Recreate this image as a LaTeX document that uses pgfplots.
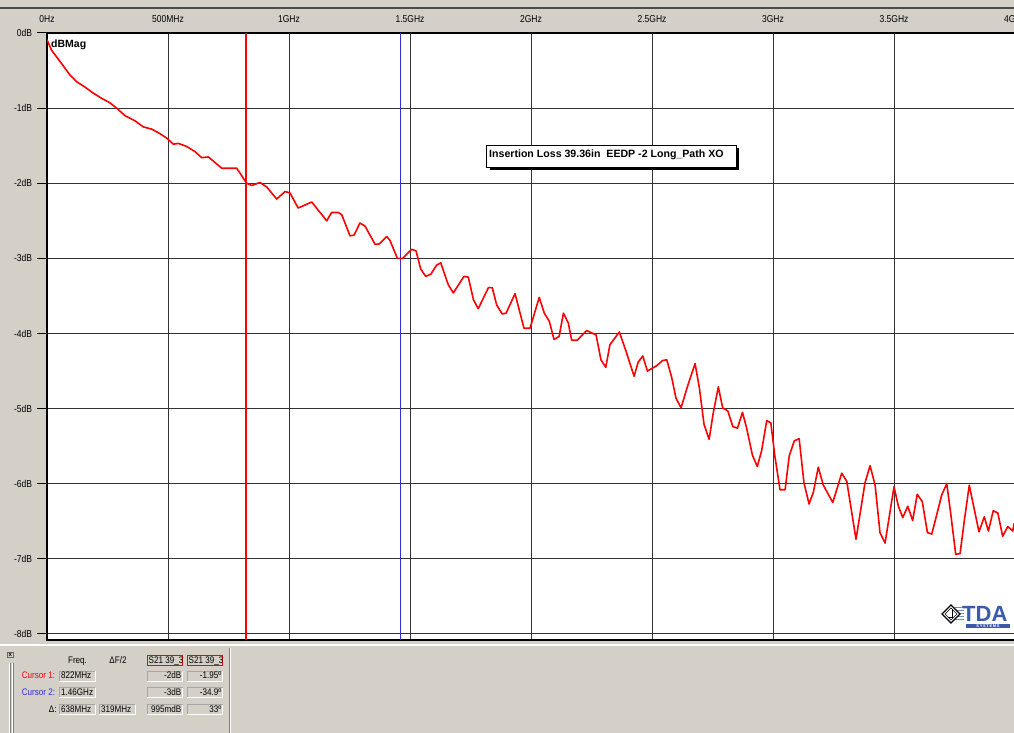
\documentclass[border=0pt]{standalone}
\usepackage{pgfplots}
\pgfplotsset{compat=1.18}
\usepackage{fontspec}
\setmainfont{Liberation Sans}
\newfontfamily\ui[FakeStretch=0.85]{Liberation Sans}
\definecolor{wingray}{HTML}{D4D0C8}
\definecolor{curblue}{HTML}{3030D0}
\definecolor{curred}{HTML}{FF0000}
\definecolor{tdablue}{HTML}{3A5AAA}
\newcommand\fieldbox[4]{%
  \fill[wingray] (#1,733-#3) rectangle (#2,733-#4);
  \draw[gray!70, line width=0.8pt] (#1,733-#4) -- (#1,733-#3) -- (#2,733-#3);
  \draw[white, line width=0.8pt] (#2,733-#3) -- (#2,733-#4) -- (#1,733-#4);
}
\newcommand\pf{\ui\fontsize{9.5}{11}\selectfont}
\begin{document}
\begin{tikzpicture}[x=1pt,y=1pt]
\useasboundingbox (0,0) rectangle (1014,733);
\clip (0,0) rectangle (1014,733);
\fill[wingray] (0,0) rectangle (1014,733);
\draw[gray!60!black, line width=1.2pt] (0,725) -- (1014,725);
\begin{axis}[
  at={(47pt,93.4pt)}, anchor=south west,
  scale only axis, width=968pt, height=606.6pt,
  xmin=0, xmax=4000, ymin=-8.075, ymax=0,
  axis background/.style={fill=white},
  axis line style={line width=2pt},
  xtick={0,500,...,4000},
  xticklabels={0Hz,500MHz,1GHz,1.5GHz,2GHz,2.5GHz,3GHz,3.5GHz,4GHz},
  ytick={-8,-7,...,0},
  yticklabels={-8dB,-7dB,-6dB,-5dB,-4dB,-3dB,-2dB,-1dB,0dB},
  xticklabel pos=upper,
  ytick pos=left,
  xtick style={draw=none},
  ytick style={black, line width=1pt},
  tick align=outside,
  major tick length=10pt,
  grid=major,
  major grid style={black!80, line width=1pt},
  ticklabel style={font=\ui\fontsize{10}{12}\selectfont},
  xticklabel style={anchor=base, yshift=0.5pt},
  yticklabel style={anchor=east, xshift=-1.5pt},
]
\addplot[curred, line width=1.2pt, forget plot] coordinates {(822,0) (822,-8.075)};
\addplot[curblue, line width=0.9pt, forget plot] coordinates {(1460,0) (1460,-8.075)};
\addplot[curred, line width=1.6pt, line join=round] coordinates {
(0,-0.09) (19,-0.23) (54,-0.38) (95,-0.56) (123,-0.65) (157,-0.72) (191,-0.80) (226,-0.87) (260,-0.93) (288,-1.00)
(322,-1.10) (364,-1.17) (398,-1.25) (433,-1.28) (467,-1.34) (495,-1.40) (522,-1.48) (543,-1.47) (577,-1.51) (612,-1.58)
(639,-1.66) (667,-1.65) (722,-1.80) (784,-1.80) (825,-2.00) (846,-2.03) (880,-1.99) (908,-2.05) (949,-2.21) (984,-2.11)
(1004,-2.13) (1038,-2.33) (1066,-2.29) (1094,-2.25) (1121,-2.36) (1156,-2.50) (1176,-2.39) (1204,-2.39) (1218,-2.42) (1252,-2.70)
(1269,-2.69) (1293,-2.53) (1314,-2.57) (1355,-2.81) (1372,-2.81) (1404,-2.71) (1417,-2.76) (1448,-3.00) (1470,-3.00) (1507,-2.88)
(1525,-2.90) (1544,-3.14) (1565,-3.24) (1586,-3.21) (1610,-3.09) (1627,-3.06) (1658,-3.35) (1679,-3.46) (1723,-3.24) (1741,-3.25)
(1762,-3.55) (1782,-3.67) (1824,-3.39) (1840,-3.39) (1858,-3.62) (1881,-3.74) (1897,-3.73) (1934,-3.47) (1971,-3.93) (1996,-3.93)
(2034,-3.52) (2055,-3.73) (2076,-3.84) (2095,-4.08) (2116,-4.04) (2134,-3.73) (2154,-3.86) (2168,-4.09) (2191,-4.09) (2230,-3.96)
(2269,-4.02) (2289,-4.35) (2309,-4.45) (2326,-4.15) (2365,-3.98) (2393,-4.24) (2426,-4.57) (2443,-4.38) (2462,-4.30) (2481,-4.50)
(2519,-4.43) (2544,-4.36) (2561,-4.35) (2581,-4.58) (2599,-4.86) (2620,-4.99) (2648,-4.69) (2678,-4.40) (2696,-4.73) (2715,-5.21)
(2736,-5.41) (2753,-5.06) (2774,-4.71) (2792,-4.99) (2813,-5.03) (2834,-5.24) (2853,-5.26) (2874,-5.05) (2891,-5.26) (2915,-5.62)
(2935,-5.77) (2953,-5.56) (2974,-5.16) (2991,-5.19) (3008,-5.64) (3029,-6.08) (3050,-6.08) (3067,-5.63) (3088,-5.43) (3108,-5.40)
(3128,-5.99) (3149,-6.27) (3167,-6.11) (3187,-5.78) (3208,-6.02) (3247,-6.25) (3284,-5.86) (3305,-5.97) (3343,-6.74) (3380,-5.99)
(3401,-5.76) (3422,-6.02) (3442,-6.65) (3463,-6.79) (3500,-6.04) (3518,-6.30) (3536,-6.45) (3557,-6.30) (3577,-6.49) (3596,-6.14)
(3617,-6.24) (3638,-6.65) (3656,-6.67) (3676,-6.42) (3697,-6.15) (3718,-6.00) (3734,-6.39) (3755,-6.94) (3773,-6.93) (3791,-6.48)
(3811,-6.02) (3831,-6.33) (3851,-6.64) (3873,-6.44) (3890,-6.63) (3910,-6.36) (3929,-6.39) (3949,-6.70) (3970,-6.57) (3991,-6.63)
(3996,-6.53)};
\end{axis}
% dBMag
\node[anchor=base west, inner sep=0, font=\bfseries\fontsize{10.5}{12}\selectfont] at (51,733-48) {dBMag};
% annotation box
\fill[black] (490,733-148) rectangle (738.7,733-169.7);
\filldraw[fill=white, draw=black, line width=0.8pt] (486.7,733-145) rectangle (736.7,733-167.3);
\node[anchor=base west, inner sep=0, font=\bfseries\fontsize{10.6}{12}\selectfont] at (489,733-157.5) {Insertion Loss 39.36in\ \ EEDP -2 Long\_Path XO};
% TDA logo
\foreach \yy in {607,610,613,616,619} {\draw[tdablue!70, line width=0.8pt] (953,733-\yy) -- (964,733-\yy);}
\filldraw[fill=white, draw=black, line width=1.2pt] (942,119) -- (951,128) -- (960,119) -- (951,110) -- cycle;
\draw[black, line width=0.5pt] (945,119) -- (951,125) -- (957,119) -- (951,113) -- cycle;
\draw[black, line width=0.8pt] (952,124) -- (952,116) -- (948,116);
\node[anchor=base west, inner sep=0, font=\bfseries\fontsize{22}{24}\selectfont, text=tdablue] at (962,733-621.5) {TDA};
\fill[tdablue] (966,733-624) rectangle (1010,733-628.5);
\node[white, inner sep=0, font=\bfseries\fontsize{4}{4}\selectfont] at (988,733-626.3) {S\,Y\,S\,T\,E\,M\,S};
% bottom panel
\draw[white, line width=1.2pt] (0,733-645) -- (1014,733-645);
\draw[gray, line width=1pt] (229.5,733-648) -- (229.5,0);
\draw[white, line width=1pt] (230.8,733-648) -- (230.8,0);
\draw[white, line width=0.8pt] (9.5,70) -- (9.5,0);
\draw[gray, line width=0.8pt] (10.5,70) -- (10.5,0);
\draw[white, line width=0.8pt] (12.5,70) -- (12.5,0);
\draw[gray, line width=0.8pt] (13.5,70) -- (13.5,0);
\draw[gray!80!black, line width=0.6pt] (7,733-652) rectangle (13.5,733-657.5);
\node[inner sep=0, font=\bfseries\fontsize{6}{6}\selectfont] at (10.2,733-654.8) {x};
% headers
\node[anchor=base, inner sep=0, font=\pf] at (77.5,733-664) {Freq.};
\node[anchor=base, inner sep=0, font=\pf] at (118,733-664) {ΔF/2};
\draw[red, line width=0.8pt] (147.3,733-655) rectangle (182.7,733-665.7);
\draw[red, line width=0.8pt] (187.3,733-655) rectangle (222.7,733-665.7);
\begin{scope}
\clip (147.8,733-655.5) rectangle (182.2,733-665.2);
\node[anchor=base west, inner sep=0, font=\pf] at (148.5,733-664) {S21 39\_3};
\end{scope}
\begin{scope}
\clip (187.8,733-655.5) rectangle (222.2,733-665.2);
\node[anchor=base west, inner sep=0, font=\pf] at (188.5,733-664) {S21 39\_3};
\end{scope}
% row labels
\node[anchor=base east, inner sep=0, font=\pf, text=red] at (55.3,733-679) {Cursor 1:};
\node[anchor=base east, inner sep=0, font=\pf, text=curblue] at (55.3,733-695.6) {Cursor 2:};
\node[anchor=base east, inner sep=0, font=\pf] at (56.7,733-712.6) {Δ:};
% fields
\fieldbox{59.3}{95}{671}{681}
\fieldbox{147.3}{182.7}{671}{681}
\fieldbox{187.3}{222.7}{671}{681}
\fieldbox{59.3}{95}{687.6}{697.6}
\fieldbox{147.3}{182.7}{687.6}{697.6}
\fieldbox{187.3}{222.7}{687.6}{697.6}
\fieldbox{59.3}{95}{704.6}{714.6}
\fieldbox{99.3}{135}{704.6}{714.6}
\fieldbox{147.3}{182.7}{704.6}{714.6}
\fieldbox{187.3}{222.7}{704.6}{714.6}
\node[anchor=base west, inner sep=0, font=\pf] at (61,733-679) {822MHz};
\node[anchor=base east, inner sep=0, font=\pf] at (181.5,733-679) {-2dB};
\node[anchor=base east, inner sep=0, font=\pf] at (221.5,733-679) {-1.95º};
\node[anchor=base west, inner sep=0, font=\pf] at (61,733-695.6) {1.46GHz};
\node[anchor=base east, inner sep=0, font=\pf] at (181.5,733-695.6) {-3dB};
\node[anchor=base east, inner sep=0, font=\pf] at (221.5,733-695.6) {-34.9º};
\node[anchor=base west, inner sep=0, font=\pf] at (61,733-712.6) {638MHz};
\node[anchor=base west, inner sep=0, font=\pf] at (101,733-712.6) {319MHz};
\node[anchor=base east, inner sep=0, font=\pf] at (181.5,733-712.6) {995mdB};
\node[anchor=base east, inner sep=0, font=\pf] at (221.5,733-712.6) {33º};
\end{tikzpicture}
\end{document}
